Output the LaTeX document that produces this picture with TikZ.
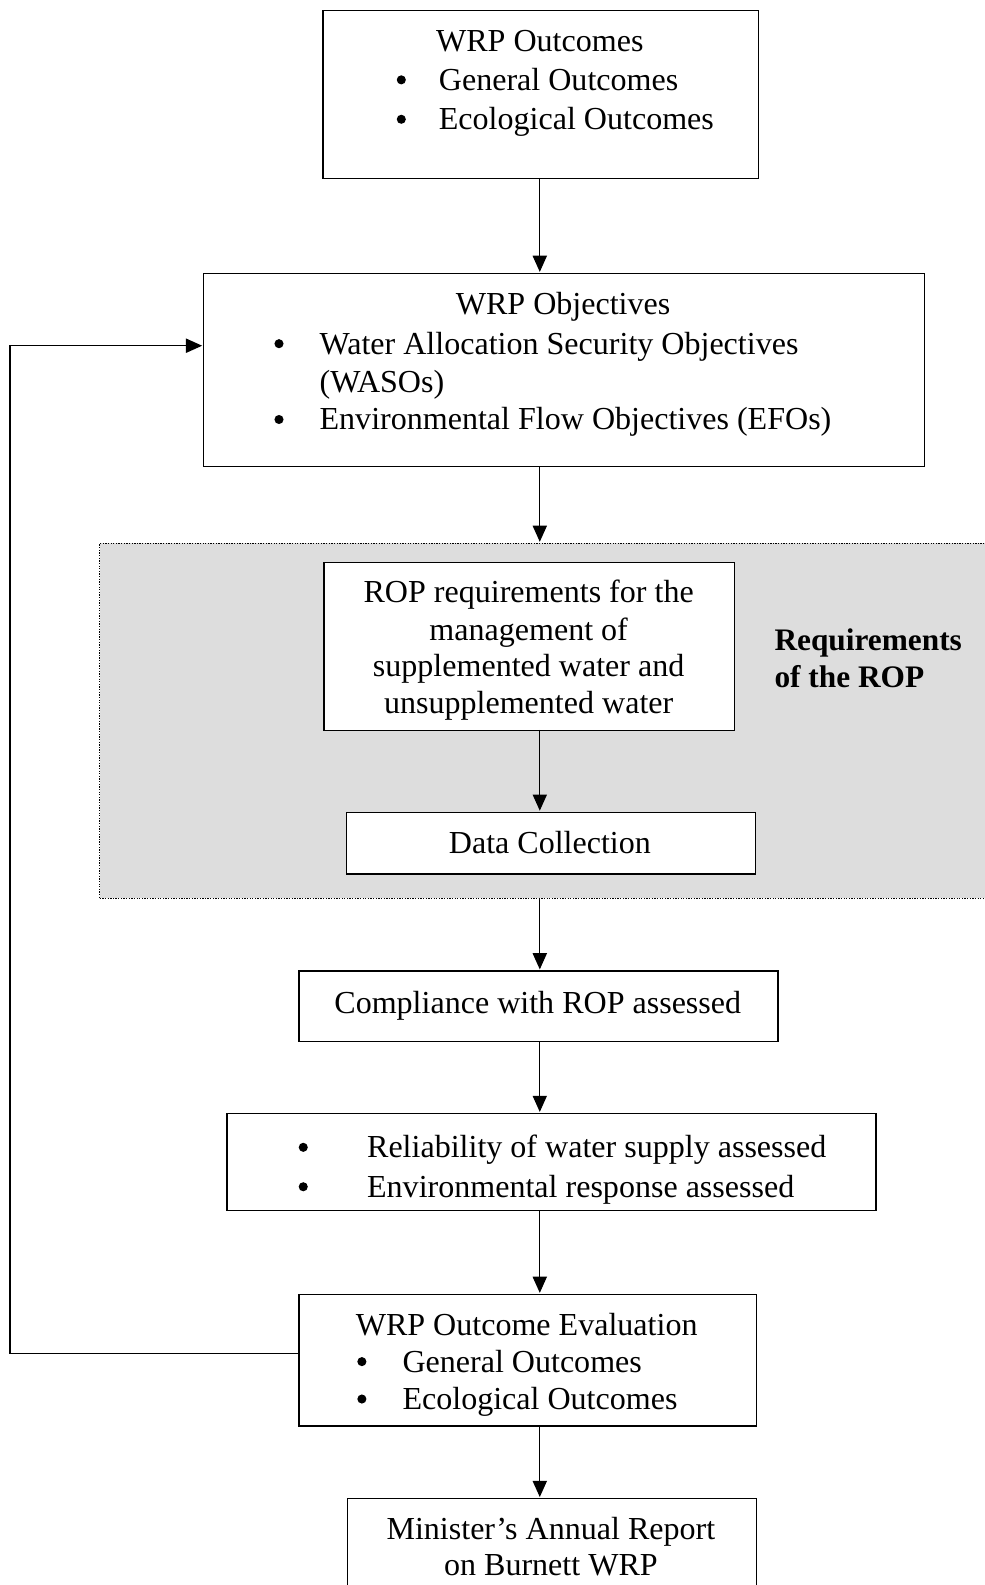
\documentclass[tikz,border=0pt]{standalone}
\usepackage{fontspec}
\setmainfont{Liberation Serif}
\usetikzlibrary{arrows.meta}
\definecolor{greyzone}{RGB}{221,221,221}
\begin{document}
\begin{tikzpicture}[x=1pt,y=-1pt,
  box/.style={draw,line width=1.3pt,fill=white,inner sep=0pt,anchor=north west},
  txt/.style={font=\fontsize{31.7}{37}\selectfont,inner sep=0pt,anchor=mid,yshift=-9pt},
  txtl/.style={txt,anchor=mid west},
  bul/.style={circle,fill=black,inner sep=0pt,minimum size=9pt,yshift=-1pt},
  arr/.style={-{Triangle[length=16pt,width=14pt]},line width=1.3pt,shorten >=1pt}]
\useasboundingbox (0,0) rectangle (974,1568);
\fill[white] (0,0) rectangle (974,1568);

% grey zone
\node[draw,fill=greyzone,line width=1.3pt,dash pattern=on 1.3pt off 1.3pt,inner sep=0pt,anchor=north west,minimum width=890pt,minimum height=351pt] (zone) at (98,537) {};

% boxes
\node[box,minimum width=431pt,minimum height=166pt] (b1) at (319,10) {};
\node[box,minimum width=713pt,minimum height=191pt] (b2) at (201,270) {};
\node[box,minimum width=406pt,minimum height=166pt] (b3) at (320,556) {};
\node[box,minimum width=405pt,minimum height=61pt] (b4) at (342,803) {};
\node[box,minimum width=474pt,minimum height=70pt] (b5) at (295,960) {};
\node[box,minimum width=642pt,minimum height=96pt] (b6) at (224,1101) {};
\node[box,minimum width=453pt,minimum height=130pt] (b7) at (295,1280) {};
\node[box,minimum width=405pt,minimum height=120pt] (b8) at (343,1482) {};

% texts box 1
\node[txt] (t1a) at (534,40) {WRP Outcomes};
\node[bul] (t1b) at (397,78) {};
\node[txtl] (t1c) at (434,78) {General Outcomes};
\node[bul] (t1d) at (397,117) {};
\node[txtl] (t1e) at (434,117) {Ecological Outcomes};

% texts box 2
\node[txt] (t2a) at (557,300) {WRP Objectives};
\node[bul] (t2b) at (276,339) {};
\node[txtl] (t2c) at (316,339) {Water Allocation Security Objectives};
\node[txtl] (t2d) at (316,377) {(WASOs)};
\node[bul] (t2e) at (276,414) {};
\node[txtl] (t2f) at (316,414) {Environmental Flow Objectives (EFOs)};

% texts box 3
\node[txt] (t3a) at (523,585) {ROP requirements for the};
\node[txt] (t3b) at (523,622) {management of};
\node[txt] (t3c) at (523,658) {supplemented water and};
\node[txt] (t3d) at (523,695) {unsupplemented water};

\node[txtl,font=\fontsize{31}{35}\selectfont\bfseries] (req1) at (766,632) {Requirements};
\node[txtl,font=\fontsize{31}{35}\selectfont\bfseries] (req2) at (766,669) {of the ROP};

% box 4
\node[txt] (t4) at (544,833) {Data Collection};
% box 5
\node[txt] (t5) at (532,991) {Compliance with ROP assessed};
% box 6
\node[bul] (t6a) at (300,1134) {};
\node[txtl] (t6b) at (363,1134) {Reliability of water supply assessed};
\node[bul] (t6c) at (300,1173) {};
\node[txtl] (t6d) at (363,1173) {Environmental response assessed};
% box 7
\node[txt] (t7a) at (521,1310) {WRP Outcome Evaluation};
\node[bul] (t7b) at (358,1346) {};
\node[txtl] (t7c) at (398,1346) {General Outcomes};
\node[bul] (t7d) at (358,1383) {};
\node[txtl] (t7e) at (398,1383) {Ecological Outcomes};
% box 8
\node[txt] (t8a) at (545,1512) {Minister’s Annual Report};
\node[txt] (t8b) at (545,1547) {on Burnett WRP};

% arrows
\coordinate (a1s) at (534,176);
\draw[arr] (a1s) -- (a1s |- b2.north);
\coordinate (a2s) at (534,461);
\draw[arr] (a2s) -- (a2s |- zone.north);
\coordinate (a3s) at (534,722);
\draw[arr] (a3s) -- (a3s |- b4.north);
\coordinate (a4s) at (534,888);
\draw[arr] (a4s) -- (a4s |- b5.north);
\draw[arr] (b5.south -| a4s) -- (a4s |- b6.north);
\draw[arr] (b6.south -| a4s) -- (a4s |- b7.north);
\draw[arr] (b7.south -| a4s) -- (a4s |- b8.north);

% feedback
\coordinate (fbx) at (10,0);
\draw[arr] ([yshift=7pt]b7.west) -| (fbx |- 0,342) -- (b2.west |- 0,342);
\end{tikzpicture}
\end{document}
